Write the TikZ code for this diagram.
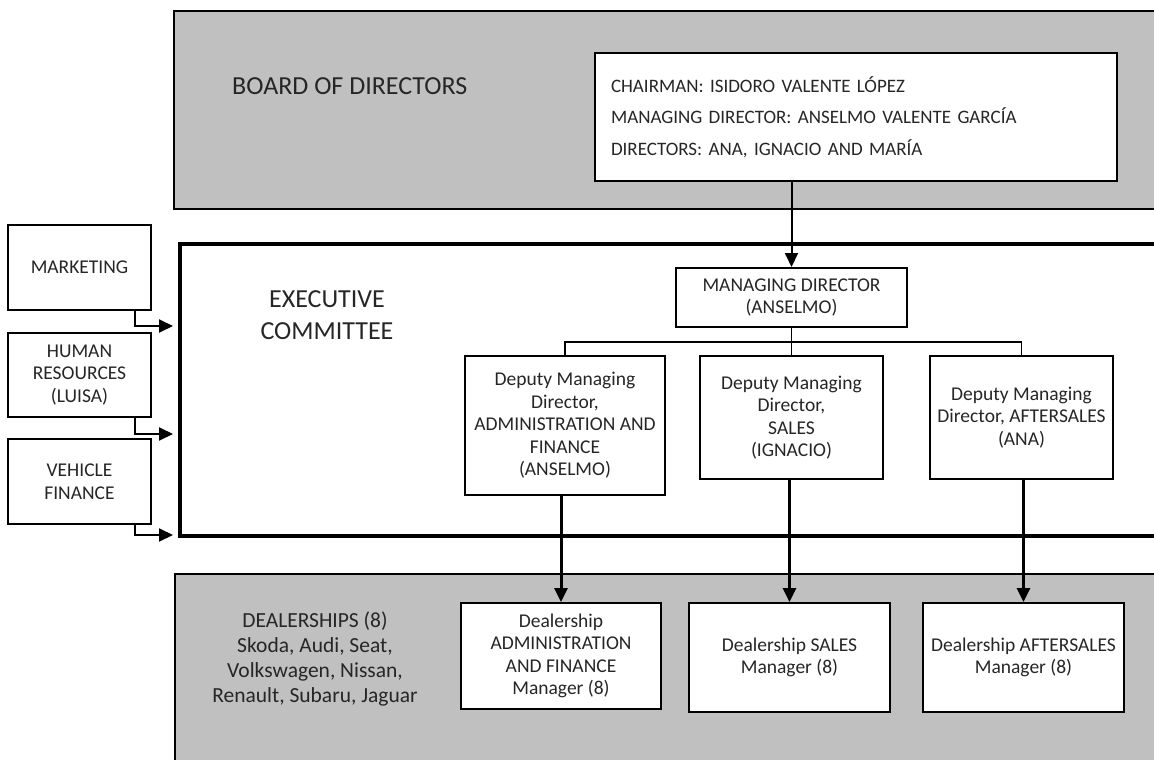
\documentclass[tikz,border=0pt]{standalone}
\usepackage{fontspec}
\setmainfont{Carlito}
\usetikzlibrary{arrows.meta}
\definecolor{panelgray}{HTML}{C0C0C0}
\definecolor{txt}{HTML}{262626}
\tikzset{
  orgbox/.style={draw=black, line width=2pt, fill=white, text=txt, align=center, inner sep=0pt,
    font=\fontsize{19.5}{22.5}\selectfont},
  biglabel/.style={text=txt, align=center, inner sep=0pt, font=\fontsize{26}{32}\selectfont},
  arr/.style={-{Triangle[length=14pt,width=13pt]}},
  thinline/.style={line width=1.6pt},
  thickline/.style={line width=3pt},
}
\begin{document}
\begin{tikzpicture}[x=1pt,y=-1pt]
\useasboundingbox (0,0) rectangle (1154,760);
% Board of directors panel
\fill[panelgray] (174,11) rectangle (1154,209);
\draw[line width=2.5pt] (1154,11) -- (174,11) -- (174,209) -- (1154,209);
% Executive committee panel
\draw[line width=3.5pt] (1154,244) -- (180,244) -- (180,536) -- (1154,536);
% Dealerships panel
\fill[panelgray] (175,574) rectangle (1154,760);
\draw[line width=2pt] (1154,574) -- (175,574) -- (175,760);

% panel labels
\node[biglabel, anchor=west] (boardlbl) at (232,86) {BOARD OF DIRECTORS};
\node[biglabel] (execlbl) at (327,315) {EXECUTIVE\\COMMITTEE};
\node[text=txt, align=center, inner sep=0pt, font=\fontsize{21.5}{25.3}\selectfont] (deallbl) at (315,659)
  {DEALERSHIPS (8)\\Skoda, Audi, Seat,\\Volkswagen, Nissan,\\Renault, Subaru, Jaguar};

% board box
\node[orgbox, align=left, minimum width=522pt, minimum height=128pt, text width=490pt,
  font=\fontsize{19}{31.6}\selectfont] (chair) at (856,117)
  {CHAIRMAN: ISIDORO VALENTE LÓPEZ\\MANAGING DIRECTOR: ANSELMO VALENTE GARCÍA\\DIRECTORS: ANA, IGNACIO AND MARÍA};

% executive boxes
\node[orgbox, minimum width=231pt, minimum height=59pt] (md) at (791.5,297.5) {MANAGING DIRECTOR\\(ANSELMO)};
\node[orgbox, minimum width=200pt, minimum height=139pt] (d1) at (565,425.5)
  {Deputy Managing\\Director,\\ADMINISTRATION AND\\FINANCE\\(ANSELMO)};
\node[orgbox, minimum width=183pt, minimum height=123pt] (d2) at (791.5,417.5)
  {Deputy Managing\\Director,\\SALES\\(IGNACIO)};
\node[orgbox, minimum width=183pt, minimum height=123pt] (d3) at (1021.5,417.5)
  {Deputy Managing\\Director, AFTERSALES\\(ANA)};

% dealership boxes
\node[orgbox, minimum width=200pt, minimum height=106pt] (e1) at (561,656)
  {Dealership\\ADMINISTRATION\\AND FINANCE\\Manager (8)};
\node[orgbox, minimum width=201pt, minimum height=109pt] (e2) at (789.5,657.5)
  {Dealership SALES\\Manager (8)};
\node[orgbox, minimum width=201pt, minimum height=109pt] (e3) at (1023.5,657.5)
  {Dealership AFTERSALES\\Manager (8)};

% side boxes
\node[orgbox, minimum width=143pt, minimum height=85pt] (mk) at (79.5,267.5) {MARKETING};
\node[orgbox, minimum width=143pt, minimum height=84pt] (hr) at (79.5,375) {HUMAN\\RESOURCES\\(LUISA)};
\node[orgbox, minimum width=143pt, minimum height=85pt] (vf) at (79.5,481.5) {VEHICLE\\FINANCE};

% connectors
\coordinate (bj) at (791.5,342);
\coordinate (ex1) at (173,326);
\coordinate (ex2) at (173,434);
\coordinate (ex3) at (173,535);

\draw[arr, line width=2pt] (chair.south -| md.north) -- (md.north);
\draw[thinline] (md.south) -- (bj);
\draw[thinline] (d1.north) |- (bj) -| (d3.north);
\draw[thinline] (bj) -- (d2.north);

\draw[arr, thickline] (e1.north |- d1.south) -- (e1.north);
\draw[arr, thickline] (e2.north |- d2.south) -- (e2.north);
\draw[arr, thickline] (e3.north |- d3.south) -- (e3.north);

\draw[arr, line width=2pt] ([xshift=55.5pt]mk.south) |- (ex1);
\draw[arr, line width=2pt] ([xshift=55.5pt]hr.south) |- (ex2);
\draw[arr, line width=2pt] ([xshift=55.5pt]vf.south) |- (ex3);
\end{tikzpicture}
\end{document}
